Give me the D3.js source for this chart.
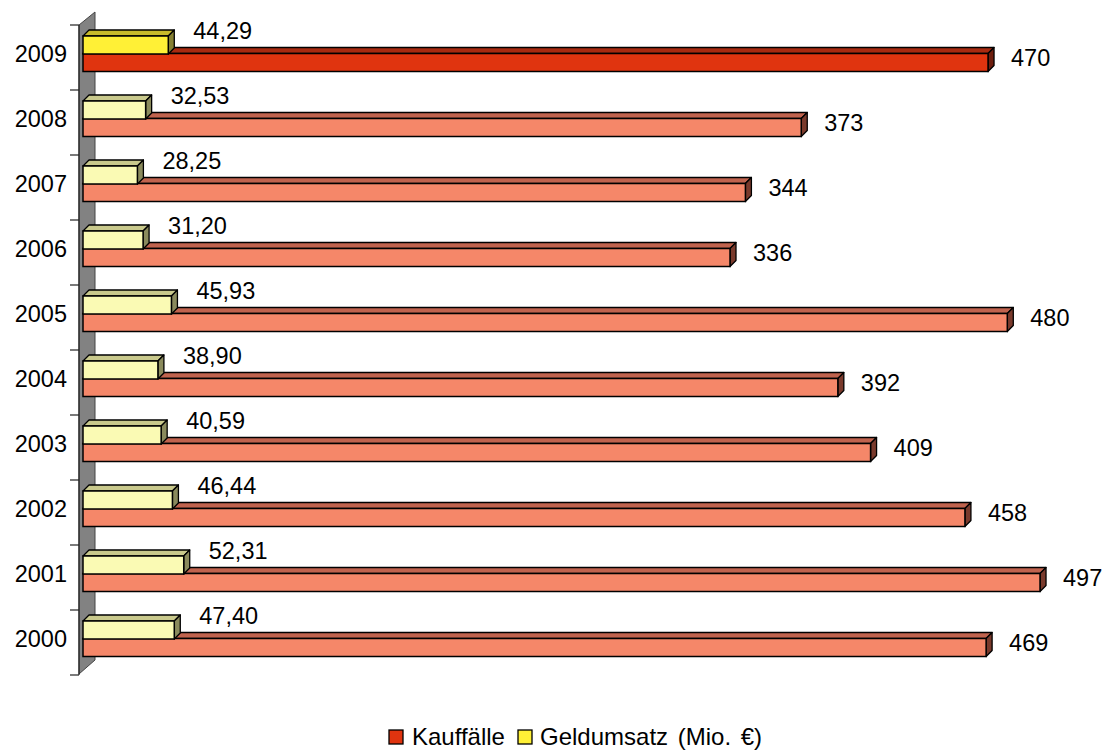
<!DOCTYPE html>
<html lang="de">
<head>
<meta charset="UTF-8">
<title>Kauffälle und Geldumsatz</title>
<style>
  body { margin: 0; background: #fff; }
  svg { display: block; font-family: "Liberation Sans", Arial, sans-serif; }
</style>
</head>
<body>
<div id="chart"></div>
<script src="https://cdn.jsdelivr.net/npm/d3@7"></script>
<script>
// data, top to bottom as in the picture
const years = ['2009', '2008', '2007', '2006', '2005', '2004', '2003', '2002', '2001', '2000'];
const kauffaelle = [470, 373, 344, 336, 480, 392, 409, 458, 497, 469];
const geldumsatz = [44.29, 32.53, 28.25, 31.20, 45.93, 38.90, 40.59, 46.44, 52.31, 47.40];
const seriesNames = ['Kauffälle', 'Geldumsatz (Mio. €)'];

const width = 1109, height = 751;
const depthX = 6, depthY = -6;   // 3d offset of the bars
const barH = 18;
const fs = 23.5;

// colours: [front, top, side]
const cRedHi = ['#e0340f', '#a82a10', '#6e1e0e'];
const cRed = ['#f58769', '#c0634e', '#7a3a2c'];
const cYelHi = ['#fff036', '#c8bb2a', '#858032'];
const cYel = ['#fafab4', '#c9c98c', '#8a8a5c'];

const svg = d3.select('#chart').append('svg')
  .attr('width', width)
  .attr('height', height);

const x = d3.scaleLinear().domain([0, 500]).range([83, 1045.8]);
const y = d3.scaleBand().domain(years).range([25, 675]);

const fmt = v => d3.format('.2f')(v).replace('.', ',');

// side wall
const wall = svg.append('g');
wall.append('path')
  .attr('d', 'M79,25 L95,12 L95,660 L79,674 Z')
  .attr('fill', '#828282')
  .attr('stroke', '#444')
  .attr('stroke-width', 1);
wall.append('line')
  .attr('x1', 79).attr('x2', 79).attr('y1', 25).attr('y2', 675)
  .attr('stroke', '#222').attr('stroke-width', 1.2);

// ticks at band edges
const edges = years.map(d => y(d)).concat([y.range()[1]]);
wall.selectAll('line.tick').data(edges).join('line')
  .attr('class', 'tick')
  .attr('x1', 70).attr('x2', 79)
  .attr('y1', d => d).attr('y2', d => d)
  .attr('stroke', '#222').attr('stroke-width', 1.2);

// year labels
svg.selectAll('text.year').data(years).join('text')
  .attr('class', 'year')
  .attr('x', 67)
  .attr('y', d => y(d) + y.bandwidth() / 2 - 4)
  .attr('dy', '0.36em')
  .attr('text-anchor', 'end')
  .attr('font-size', fs)
  .text(d => d);

function bar3d(g, x0, x1, yTop, cols) {
  const h = barH;
  // top face
  g.append('path')
    .attr('d', `M${x0},${yTop} L${x0 + depthX},${yTop + depthY} L${x1 + depthX},${yTop + depthY} L${x1},${yTop} Z`)
    .attr('fill', cols[1]).attr('stroke', '#000').attr('stroke-width', 1.3).attr('stroke-linejoin', 'round');
  // side face
  g.append('path')
    .attr('d', `M${x1},${yTop} L${x1 + depthX},${yTop + depthY} L${x1 + depthX},${yTop + h + depthY} L${x1},${yTop + h} Z`)
    .attr('fill', cols[2]).attr('stroke', '#000').attr('stroke-width', 1.3).attr('stroke-linejoin', 'round');
  // front face
  g.append('rect')
    .attr('x', x0).attr('y', yTop)
    .attr('width', x1 - x0).attr('height', h)
    .attr('fill', cols[0]).attr('stroke', '#000').attr('stroke-width', 1.5);
}

const bars = svg.append('g');
years.forEach((yr, i) => {
  const g = bars.append('g');
  const b0 = y(yr);
  const hi = yr === '2009';
  // red bar first (it sits behind the yellow one's top edge)
  bar3d(g, x(0), x(kauffaelle[i]), b0 + 28.5, hi ? cRedHi : cRed);
  bar3d(g, x(0), x(geldumsatz[i]), b0 + 11, hi ? cYelHi : cYel);

  g.append('text')
    .attr('x', x(kauffaelle[i]) + 23)
    .attr('y', b0 + 28.5 + 4)
    .attr('dy', '0.36em')
    .attr('font-size', fs)
    .text(kauffaelle[i]);
  g.append('text')
    .attr('x', x(geldumsatz[i]) + 25)
    .attr('y', b0 + 6)
    .attr('dy', '0.36em')
    .attr('font-size', fs)
    .text(fmt(geldumsatz[i]));
});

// legend
const legend = svg.append('g').attr('transform', 'translate(389,730)');
const legX = [0, 129];
seriesNames.forEach((name, i) => {
  const lg = legend.append('g').attr('transform', `translate(${legX[i]},0)`);
  lg.append('rect')
    .attr('width', 14).attr('height', 14)
    .attr('fill', i === 0 ? cRedHi[0] : cYelHi[0])
    .attr('stroke', '#000').attr('stroke-width', 1.3);
  lg.append('text')
    .attr('x', i === 1 ? 22 : 23).attr('y', 6)
    .attr('dy', '0.36em')
    .attr('font-size', 24)
    .attr('word-spacing', 3)
    .text(name);
});
</script>
</body>
</html>
